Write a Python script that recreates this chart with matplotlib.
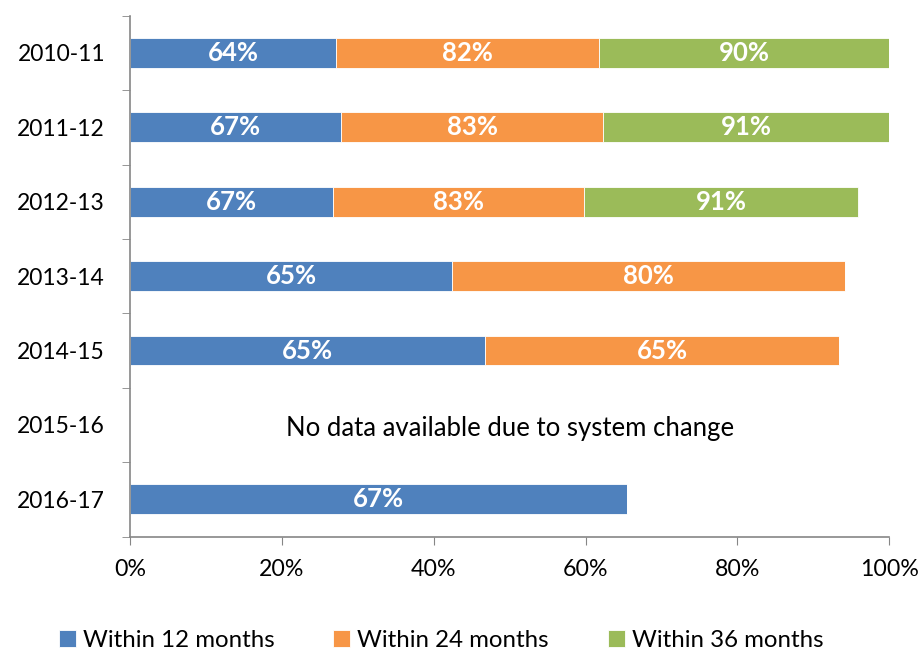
import matplotlib
matplotlib.use('Agg')
import matplotlib.pyplot as plt
import numpy as np

plt.rcParams['font.family'] = ['Lato', 'DejaVu Sans']

# categories (top to bottom)
years = ['2010-11', '2011-12', '2012-13', '2013-14', '2014-15', '2015-16', '2016-17']

# segment lengths as they appear on the axis (% of axis)
w12 = [27.1, 27.8, 26.7, 42.4, 46.8, 0, 65.4]
w24 = [34.7, 34.5, 33.1, 51.7, 46.6, 0, 0]
w36 = [38.2, 37.7, 36.1, 0, 0, 0, 0]

# data labels shown in each segment
lab12 = ['64%', '67%', '67%', '65%', '65%', '', '67%']
lab24 = ['82%', '83%', '83%', '80%', '65%', '', '']
lab36 = ['90%', '91%', '91%', '', '', '', '']

series = ['Within 12 months', 'Within 24 months', 'Within 36 months']
colors = ['#4F81BD', '#F79646', '#9BBB59']

fig = plt.figure(figsize=(9.21, 6.49), dpi=100)
ax = fig.add_axes([130 / 921, 1 - 536.5 / 649, 759.3 / 921, 520.8 / 649])

y = np.arange(len(years))
left = np.zeros(len(years))
for widths, labels, name, col in zip([w12, w24, w36], [lab12, lab24, lab36], series, colors):
    widths = np.array(widths)
    ax.barh(y, widths, left=left, height=0.4, color=col, edgecolor='white',
            linewidth=0.6, label=name)
    for i in range(len(years)):
        if labels[i]:
            ax.text(left[i] + widths[i] / 2, y[i], labels[i], ha='center', va='center',
                    color='white', fontsize=18.5, fontweight='bold')
    left = left + widths

ax.text(50, 5.05, 'No data available due to system change', ha='center', va='center',
        fontsize=18.5, color='black')

ax.set_xlim(0, 100)
ax.set_ylim(len(years) - 0.5, -0.5)
ax.set_xticks([0, 20, 40, 60, 80, 100])
ax.set_xticklabels(['0%', '20%', '40%', '60%', '80%', '100%'], fontsize=16.7)
ax.set_yticks(y)
ax.set_yticklabels(years, fontsize=16.5)
ax.set_yticks(np.arange(-0.5, len(years)), minor=True)
ax.tick_params(axis='y', which='major', length=0, pad=18)
ax.tick_params(axis='y', which='minor', length=6, color='#868686', direction='out')
ax.tick_params(axis='x', length=6, color='#868686', direction='out', pad=10)

for s in ['top', 'right']:
    ax.spines[s].set_visible(False)
for s in ['left', 'bottom']:
    ax.spines[s].set_color('#868686')
    ax.spines[s].set_linewidth(1.2)

fig.legend(loc='lower center', bbox_to_anchor=(0.479, -0.036), ncol=3, frameon=False,
           fontsize=17.3, handlelength=0.7, handleheight=0.7, handletextpad=0.3,
           columnspacing=2.45)

fig.savefig('out.png', dpi=100)
